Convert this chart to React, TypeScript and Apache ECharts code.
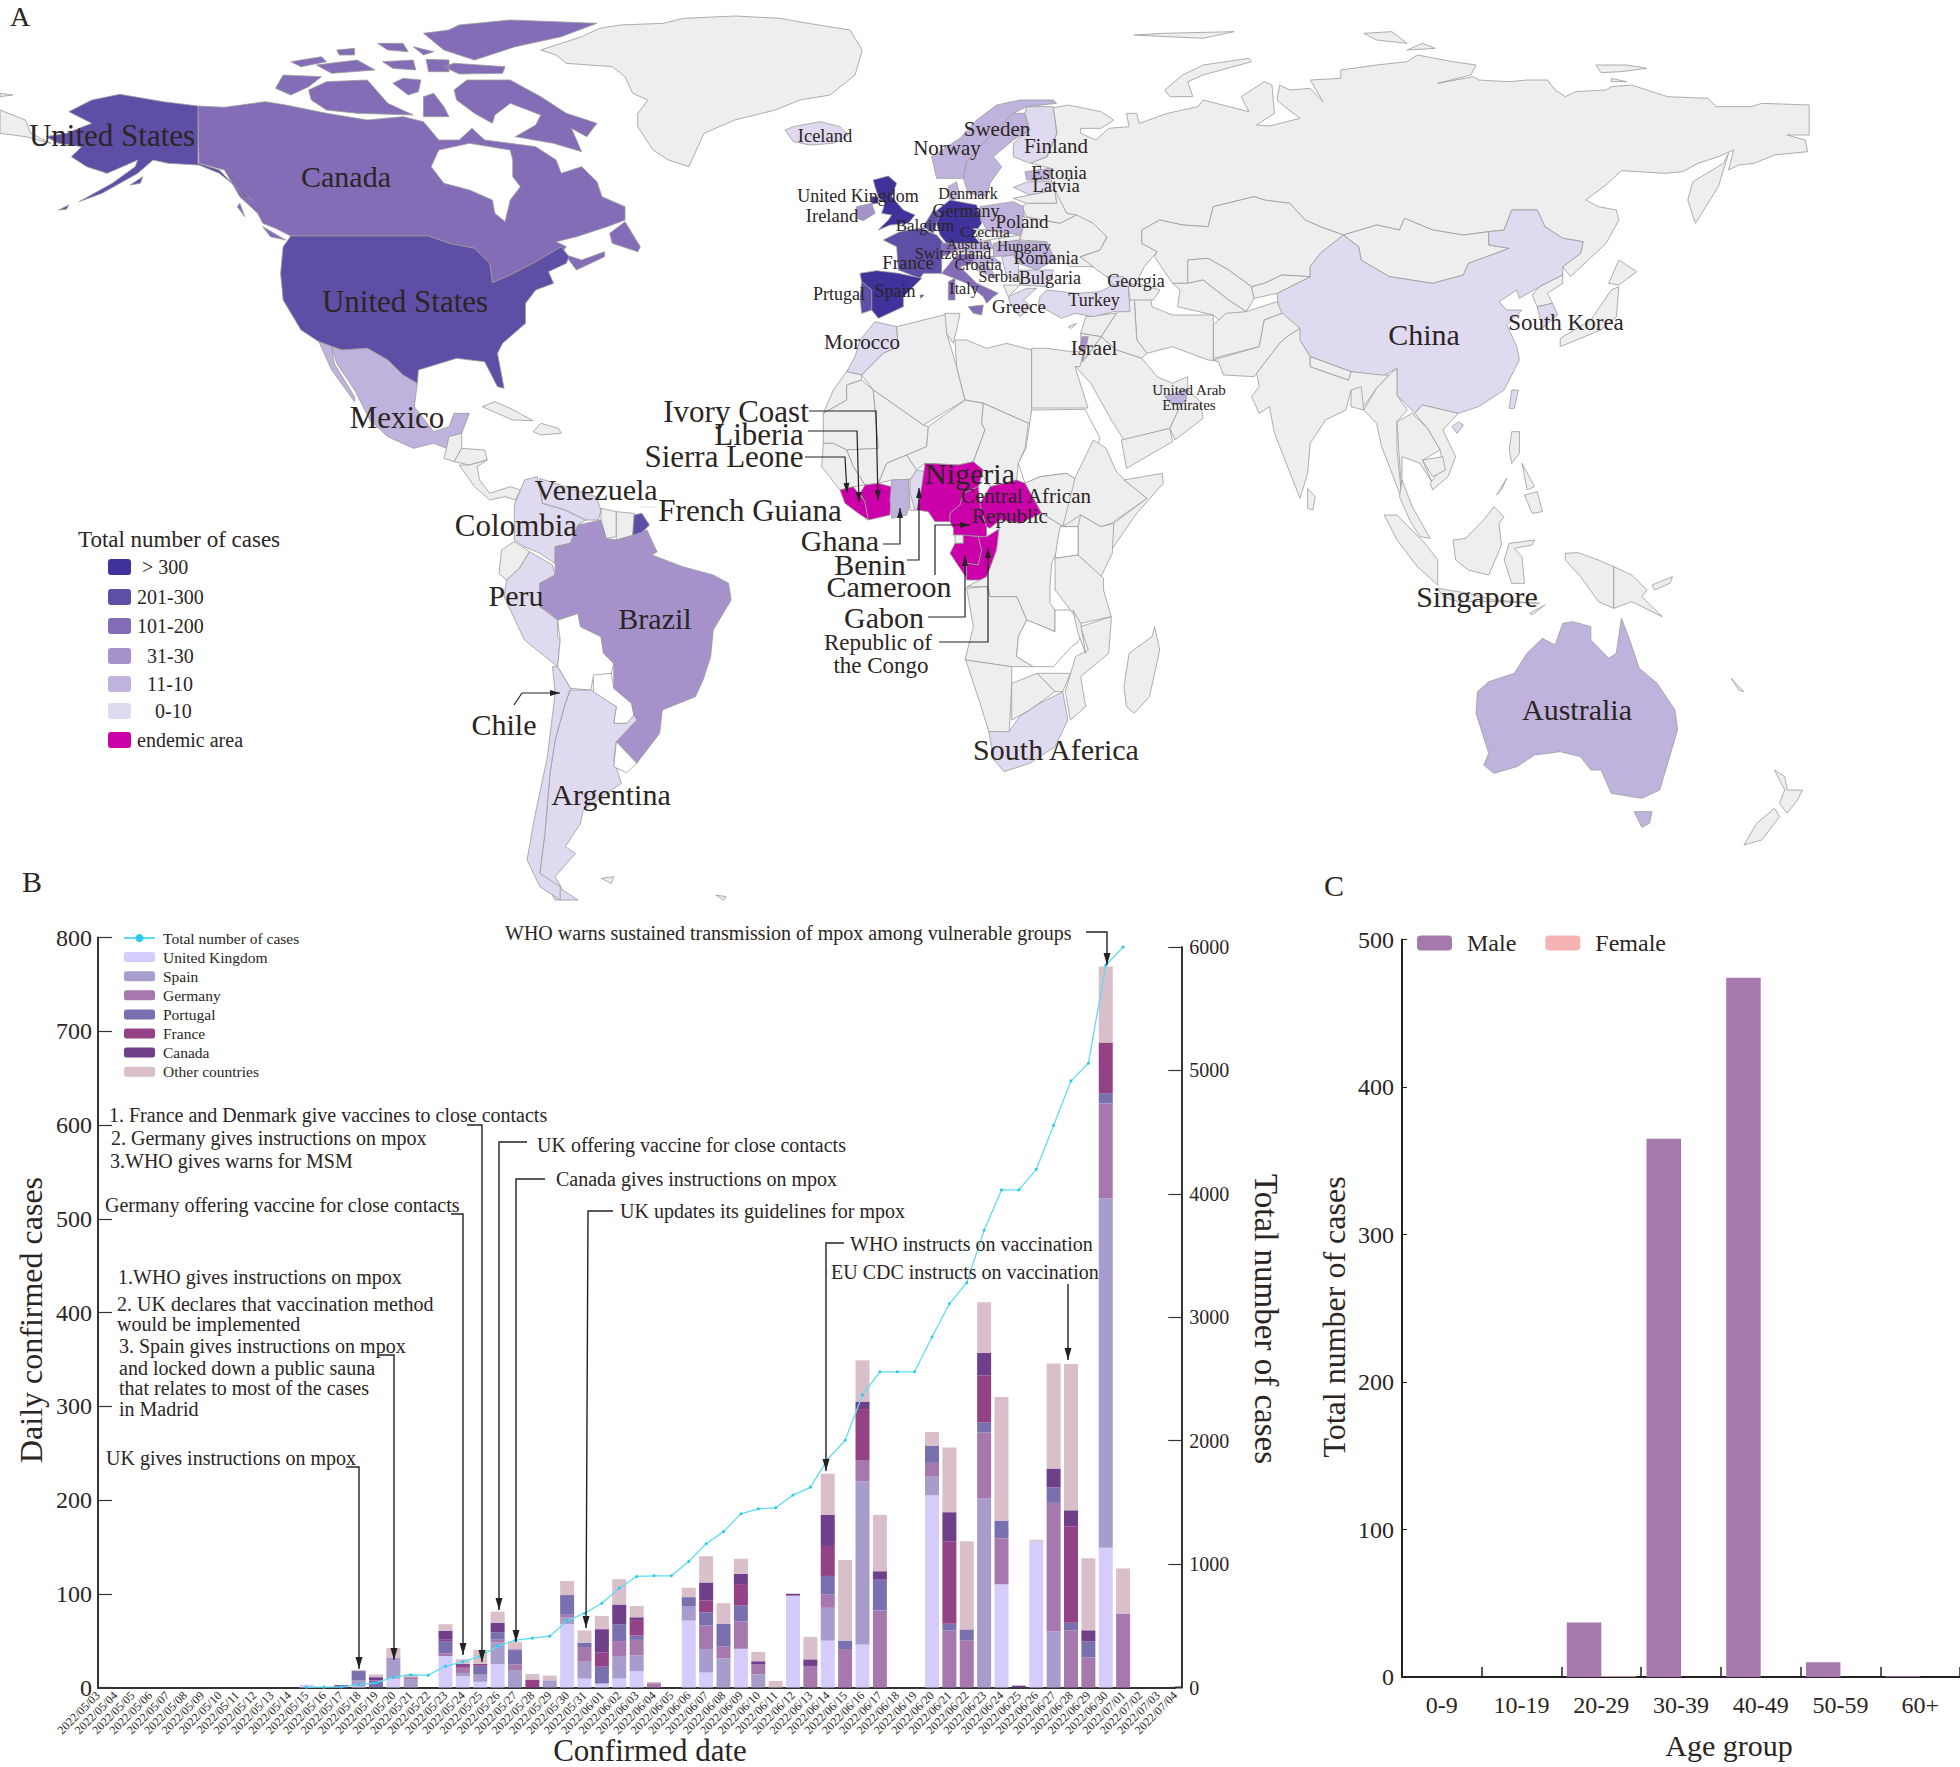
import React, { useEffect, useRef } from "react";
import * as echarts from "echarts";

const SERIF = "'Liberation Serif', 'Times New Roman', serif";
const INK = "#2b2523";

// ---------- Panel B data ----------
const dates = [
  "2022/05/03","2022/05/04","2022/05/05","2022/05/06","2022/05/07","2022/05/08","2022/05/09","2022/05/10","2022/05/11","2022/05/12",
  "2022/05/13","2022/05/14","2022/05/15","2022/05/16","2022/05/17","2022/05/18","2022/05/19","2022/05/20","2022/05/21","2022/05/22",
  "2022/05/23","2022/05/24","2022/05/25","2022/05/26","2022/05/27","2022/05/28","2022/05/29","2022/05/30","2022/05/31","2022/06/01",
  "2022/06/02","2022/06/03","2022/06/04","2022/06/05","2022/06/06","2022/06/07","2022/06/08","2022/06/09","2022/06/10","2022/06/11",
  "2022/06/12","2022/06/13","2022/06/14","2022/06/15","2022/06/16","2022/06/17","2022/06/18","2022/06/19","2022/06/20","2022/06/21",
  "2022/06/22","2022/06/23","2022/06/24","2022/06/25","2022/06/26","2022/06/27","2022/06/28","2022/06/29","2022/06/30","2022/07/01",
  "2022/07/02","2022/07/03","2022/07/04",
];
const ukCases = [
  0,0,0,0,0,0,0,0,0,0,
  0,0,3,0,0,1,0,9.5,0,0,
  33.5,12,6,25,0,0,0,67.6,9.5,4.2,
  9.5,17.3,0,0,71.4,16,0,41.3,0,0,
  98,0,50,0,46,0,0,0,205,0,
  0,0,110,0,156,0,0,0,149,0,
  0,0,0,
];
const spainCases = [
  0,0,0,0,0,0,0,0,0,0,
  0,0,0,0,0,6.5,0,22,9,0,
  0,3.5,7.7,23,18.7,0,7.7,7,18.7,0,
  24,17,0,0,15,25,31,0,14,0,
  0,0,35,0,174,0,0,0,20.6,0,
  0,202,0,0,0,60,0,0,373,0,
  0,0,0,
];
const germanyCases = [
  0,0,0,0,0,0,0,0,0,0,
  0,0,0,0,0,0,0,0,2,0,
  3,5.6,0,3,6,0,0,3,15,0,
  16,16.5,4.6,0,0,25,13,29,11,0,
  0,23,14,41,22,82,0,0,14,61,
  50,70,49,0,0,137,61,32,101,79,
  0,0,0,
];
const portugalCases = [
  0,0,0,0,0,0,0,0,0,0,
  0,0,0,0,1,10,7.5,0,0,0,
  13,0,9.5,8,15,0,0,21,4.6,18,
  18,4.6,0,0,10,14,24,17,0,0,
  0,0,20,9,0,33,0,0,18,7,
  12,11,19,0,0,16.5,8,17,11,0,
  0,0,0,
];
const franceCases = [
  0,0,0,0,0,0,0,0,0,0,
  0,0,0,0,0,0,0.5,0,0,0,
  2,3,2,0,0,8.5,0,0,0,15,
  0,16.5,0,0,0,13,0,23,0,0,
  0,0,32,0,55,0,0,0,0,88,
  0,50,0,0,0,0,103,0,54,0,
  0,0,0,
];
const canadaCases = [
  0,0,0,0,0,0,0,0,0,0,
  0,0,0,0,1.5,0.5,3,0,0,0,
  9,1,0,10,1,0,0,0,0,25,
  21,3,0,0,0,19,0,11,3,0,
  2,7,33,0,8,9,0,0,0,31,
  0,24,0,2,0,20,17,12,0,0,
  0,0,0,
];
const otherCases = [
  0,0,0,0,0,0,0,0,0,0,
  0,0,0,0,0,0.7,3,10.5,3,0,
  7,5,15,12,8,6,5,15,13,14,
  27,12,1.4,0,10,28,22,16,10,7,
  0,24,44,86,44,60,0,0,15,69,
  94,54,132,0,1.5,112,156,77,81,48,
  0,0,0,
];
const totalCases = [
  null,null,null,null,null,null,null,null,null,null,
  null,null,3,3,5,24,38,84,103,100,
  173,208,254,335,383,400,416,540,602,683,
  804,900,905,905,1021,1165,1263,1407,1447,1456,
  1559,1622,1850,2003,2370,2558,2558,2558,2840,3109,
  3280,3705,4032,4032,4198,4556,4915,5058,5851,6000,
  null,null,null,
];

// ---------- Panel C data ----------
const ageGroups = ["0-9","10-19","20-29","30-39","40-49","50-59","60+"];
const maleCases = [0,0,37,365,474,10,0.5];
const femaleCases = [0,0,0.5,0,0,0,0];

// ---------- Panel A: case bins ----------
const binGt300 = ["United Kingdom","Germany","Spain"];
const bin201 = ["United States","France","Portugal","Belgium","French Guiana"];
const bin101 = ["Canada","Italy","Switzerland"];
const bin31 = ["Brazil","Ireland","Israel"];
const bin11 = ["Mexico","Australia","Ghana","Norway","Sweden","Denmark","Poland","Austria","Hungary","Romania","Estonia","United Arab Emirates","Croatia"];
const bin0 = ["China","Argentina","Chile","Peru","Colombia","Venezuela","South Africa","Morocco","Iceland","Finland","Latvia","Serbia","Bulgaria","Greece","Turkey","Georgia","South Korea","Taiwan","Benin"];
const endemic = ["Sierra Leone","Liberia","Ivory Coast","Nigeria","Cameroon","Central African Republic","Gabon","Republic of the Congo"];
const noData = ["Sudan","Zambia","Uganda","Bolivia","Paraguay","Uruguay","Hudson Bay"];

const binColors = { gt300: "#3f329b", b201: "#5e4ea6", b101: "#846db7", b31: "#a592cb", b11: "#bfb3dd", b0: "#e0daf0", endemic: "#cc00a9", none: "#eeeeee", white: "#ffffff" };

const legendRows: [string, string, number, number][] = [
  ["> 300", binColors.gt300, 142, 567],
  ["201-300", binColors.b201, 137, 597],
  ["101-200", binColors.b101, 137, 626],
  ["31-30", binColors.b31, 147, 656],
  ["11-10", binColors.b11, 147, 684],
  ["0-10", binColors.b0, 155, 711],
  ["endemic area", binColors.endemic, 137, 740],
];

// frame: origin x, origin y, scale x, scale y
const FRAMES: Record<string, number[]> = {
  e: [760, 100, 3, 3],
  w: [620, 380, 3, 3],
  n: [0, 0, 1.96, 3],
  a: [1050, 0, 1.96, 3],
  s: [300, 440, 1.96, 3],
  o: [1050, 420, 1.96, 3],
};
const REGIONS: [string, [string, string][]][] = [
  ["Greenland", [["n","1060,150 1100,130 1140,110 1175,85 1215,75 1300,70 1340,55 1440,48 1530,55 1568,66 1666,90 1690,150 1676,225 1627,285 1568,300 1520,330 1440,360 1380,400 1350,500 1310,480 1280,450 1250,380 1250,340 1270,300 1240,280 1225,230 1200,200 1110,190 1090,165"]]],
  ["Canada", [
    ["n","388,318 440,322 520,305 560,315 640,340 720,360 790,350 830,365 860,420 900,420 925,385 950,420 1000,430 1050,440 1090,480 1100,520 1140,500 1170,545 1180,590 1225,620 1225,660 1190,680 1130,710 1090,725 1110,740 1100,760 1140,780 1185,755 1185,770 1130,810 1110,770 1100,740 1045,790 1000,825 965,848 960,790 930,745 880,730 840,708 570,708 540,685 515,670 505,640 470,590 440,510 390,490"],
    ["n","890,270 915,240 1000,240 1060,290 1110,340 1170,370 1150,410 1120,385 1140,455 1085,430 1010,410 1050,375 1060,345 1000,310 970,345 965,370 930,340 895,300"],
    ["n","605,270 640,245 720,240 760,310 810,345 700,340 640,330 610,300"],
    ["n","540,265 555,225 630,230 605,260 570,285"],
    ["n","770,250 790,235 825,240 820,275 800,285"],
    ["n","830,290 850,280 870,320 880,350 830,350"],
    ["n","870,200 890,190 990,200 985,220 900,222"],
    ["n","830,100 880,90 900,75 1000,60 1170,70 1100,110 1010,140 930,180 870,150"],
    ["n","740,130 790,130 800,155 760,150"],
    ["n","570,185 630,170 640,185 590,200"],
    ["n","620,195 700,180 735,210 650,220"],
    ["n","750,185 810,180 815,210 770,205"],
    ["n","835,178 880,180 880,215 840,215"],
    ["n","810,140 850,155 830,165"],
    ["n","660,150 695,145 695,165 665,165"],
    ["n","1195,700 1225,665 1255,740 1250,755 1200,730"],
    ["n","470,610 480,650 465,620"],
    ["n","515,680 560,720 530,710"],
  ]],
  ["Hudson Bay", [["n","845,500 860,450 920,430 1000,450 1005,480 1005,530 1020,560 1000,600 990,665 970,640 965,600 920,570 870,550"]]],
  ["United States", [
    ["n","570,708 840,708 880,730 930,745 960,790 965,848 1000,825 1045,790 1100,740 1115,770 1110,790 1075,815 1085,850 1050,870 1030,910 1030,970 985,1030 975,1060 988,1165 975,1160 950,1085 895,1075 820,1110 818,1150 790,1125 760,1080 720,1045 670,1050 625,1025 590,990 555,900 550,820 555,740"],
    ["n","388,318 388,490 430,510 480,590 495,600 430,520 390,495 330,490 300,480 270,520 200,580 155,605 220,550 265,500 270,480 210,520 170,500 140,470 160,440 115,430 90,410 130,400 180,370 135,335 180,300 235,283 320,305"],
    ["n","255,555 280,530 275,550"],
    ["n","115,630 135,615 130,628"],
  ]],
  ["Mexico", [
    ["n","650,1040 670,1050 720,1045 760,1080 790,1125 818,1150 812,1220 850,1295 880,1280 890,1240 920,1240 905,1300 880,1320 875,1345 850,1330 810,1345 760,1310 725,1260 695,1170 660,1090"],
    ["n","625,1025 650,1040 655,1090 695,1190 695,1205 650,1110"],
  ]],
  ["Guatemala", [["n","870,1375 875,1345 880,1310 905,1300 905,1345 890,1385"]]],
  ["Honduras", [["n","905,1345 950,1350 955,1380 920,1395 890,1385"]]],
  ["Nicaragua", [["n","920,1395 955,1380 935,1400 940,1440 960,1480 1000,1460 1020,1470 1010,1500 990,1490 960,1500 930,1460 900,1395"]]],
  ["Cuba", [["n","945,1220 970,1205 1000,1225 1045,1262 1005,1260 960,1230"]]],
  ["Hispaniola", [["n","1045,1295 1060,1270 1095,1285 1100,1300 1060,1305"]]],
  ["Chukotka", [["n","0,330 50,360 60,400 100,430 50,410 0,400"], ["n","0,280 25,285 0,290"]]],
  ["Russia", [
    ["a","6,324 35,315 100,335 125,360 100,385 60,385 60,400 90,420 115,385 155,380 150,340 170,340 175,370 230,340 290,320 300,300 390,335 375,290 420,245 435,255 440,340 405,375 430,378 490,355 460,320 445,300 450,255 470,270 510,265 535,305 510,240 570,235 570,210 640,195 700,185 720,165 790,185 835,195 825,225 760,250 830,230 840,240 900,245 935,240 975,240 990,270 1010,290 1030,275 1090,270 1100,260 1140,255 1210,290 1290,295 1305,320 1375,320 1395,310 1488,315 1488,405 1445,405 1480,420 1485,455 1420,465 1380,490 1350,495 1330,510 1340,450 1310,470 1270,490 1240,515 1205,520 1120,512 1090,555 1050,600 1075,620 1110,630 1115,660 1090,730 1020,830 1005,800 1040,760 1045,725 1005,715 970,680 955,630 905,630 890,690 860,695 810,705 750,690 695,655 685,690 640,675 575,705 530,680 500,660 470,610 420,600 400,590 320,620 310,680 260,675 215,660 180,690 180,730 210,755 185,800 167,855 112,831 84,801 59,771 98,750 112,711 84,669 33,639 6,579 0,504 -39,489 -6,471 14,399"],
    ["a","225,270 260,225 300,195 390,175 395,185 300,225 270,245 280,290 235,290"],
    ["a","165,105 220,100 360,95 300,115 230,110"],
    ["a","615,100 670,95 700,130 640,120"],
    ["a","700,150 730,130 755,145"],
    ["a","1250,600 1260,545 1320,490 1330,460 1310,560 1265,670"],
    ["a","1070,195 1130,195 1170,205 1120,215 1080,218"],
    ["a","1100,235 1130,245 1100,245"],
  ]],
  ["Japan", [
    ["a","1095,850 1115,780 1150,815 1115,855"],
    ["a","1000,1040 1000,1015 1060,960 1100,870 1115,860 1110,950 1080,990"],
  ]],
  ["Kazakhstan", [["a","180,690 215,660 260,675 310,680 320,620 400,590 420,600 470,610 500,660 530,680 575,705 530,760 510,800 510,830 455,825 420,850 395,860 350,810 310,775 270,780 270,850 240,850 205,770 210,755 180,730"]]],
  ["Mongolia", [["a","575,705 640,675 685,690 695,655 750,690 810,705 860,695 860,735 900,745 865,765 820,790 810,825 750,850 665,830 610,780 605,740"]]],
  ["China", [["a","575,705 605,740 610,780 665,830 750,850 810,825 820,790 865,765 900,745 860,735 860,695 890,690 905,630 955,630 970,680 1005,715 1045,725 1040,760 1005,800 1005,825 960,860 920,895 915,870 880,905 895,930 925,930 895,975 915,1040 920,1080 890,1170 840,1220 800,1240 730,1215 715,1240 680,1185 680,1105 650,1130 590,1115 510,1070 490,1020 450,950 445,880 510,830 510,800 530,760"], ["a","788,1280 800,1265 810,1275 798,1300"]]],
  ["Taiwan", [["a","900,1225 905,1170 918,1170 910,1225"]]],
  ["North Korea", [["a","1005,825 960,860 945,885 955,920 985,910 975,880 1005,850"]]],
  ["South Korea", [["a","955,920 985,910 995,945 965,985"]]],
  ["Uzbekistan", [["a","270,780 310,775 350,810 395,860 400,895 385,935 350,900 300,840 270,850"]]],
  ["Kyrgyzstan", [["a","395,860 420,850 455,825 510,830 445,880 400,895"]]],
  ["Turkmenistan", [["a","240,850 270,850 300,840 350,900 385,935 340,970 320,945 250,920 255,870"]]],
  ["Afghanistan", [["a","320,975 345,940 385,935 445,905 455,940 420,960 410,1040 320,1075"]]],
  ["Iran", [["a","165,890 195,875 200,920 240,945 320,945 320,1080 340,1085 310,1080 240,1040 190,1060 170,1020"]]],
  ["Pakistan", [["a","320,1080 410,1040 420,960 455,940 490,985 465,1010 450,1030 405,1120 400,1130 340,1125 330,1085"]]],
  ["India", [["a","465,1010 490,985 490,1020 510,1070 510,1100 585,1140 590,1115 650,1125 665,1125 640,1165 610,1230 590,1170 580,1230 540,1260 510,1330 505,1420 490,1495 440,1300 430,1220 410,1240 395,1190 410,1160 405,1120 450,1030"]]],
  ["Nepal", [["a","510,1070 590,1115 585,1140 510,1100"]]],
  ["Bangladesh", [["a","590,1170 610,1160 615,1230 590,1220"]]],
  ["Sri Lanka", [["o","505,205 520,230 515,270 505,265"]]],
  ["Myanmar", [["a","665,1125 680,1105 680,1185 700,1230 680,1265 680,1350 690,1498 650,1340 640,1270 615,1230 640,1165"]]],
  ["Thailand", [["a","680,1265 710,1240 740,1285 765,1350 730,1380 750,1450 725,1390 690,1370 690,1498"]]],
  ["Vietnam", [["a","715,1240 730,1215 800,1240 770,1290 795,1370 780,1430 750,1470 745,1450 770,1400 765,1350 740,1285"]]],
  ["Cambodia", [["a","730,1380 770,1370 775,1410 750,1430"]]],
  ["Malaysia", [["o","690,180 710,260 745,355 725,350 705,300 685,230"]]],
  ["Indonesia", [
    ["o","655,285 680,285 735,370 760,420 760,495 720,440 680,360"],
    ["o","790,360 815,355 850,300 870,260 890,290 880,310 885,375 860,465 820,450 795,420"],
    ["o","900,370 950,360 945,375 910,385 925,410 930,490 905,490 890,420"],
    ["o","760,505 820,520 870,540 960,550 870,545 800,545 770,530"],
    ["o","940,580 970,555 945,585"],
    ["o","1010,400 1035,398 1075,420 1105,440 1105,565 1075,545 1040,470 1010,420"],
  ]],
  ["Philippines", [
    ["o","905,35 920,35 920,100 905,130 900,90"],
    ["o","930,225 955,215 965,275 945,280"],
    ["o","875,225 895,175 885,210"],
    ["o","925,130 950,200 935,210"],
  ]],
  ["Papua New Guinea", [["o","1105,440 1140,465 1170,510 1160,530 1200,590 1160,560 1140,545 1105,565"], ["o","1180,495 1220,470 1215,490 1185,510"]]],
  ["New Zealand", [["o","1420,1050 1440,1070 1445,1110 1475,1110 1465,1140 1445,1180 1430,1150 1440,1110"], ["o","1420,1165 1430,1190 1395,1260 1360,1275 1385,1210"]]],
  ["New Caledonia", [["o","1335,775 1360,815 1350,810"]]],
  ["Madagascar", [["o","205,620 215,690 195,830 165,880 150,860 145,800 155,700 200,650"]]],
  ["Australia", [["o","1005,610 1025,605 1060,620 1060,660 1095,715 1110,700 1120,595 1135,655 1155,745 1190,790 1225,870 1230,930 1195,1110 1160,1135 1100,1120 1080,1050 1060,1050 1040,1010 1000,995 950,1005 915,1040 870,1060 850,1035 860,1000 835,880 838,815 860,785 910,760 935,700 965,655 990,675"], ["o","1145,1175 1180,1175 1175,1210 1160,1222"]]],
  ["Iraq", [["a","130,940 155,905 165,890 170,1020 190,1060 180,1075 130,1050 100,1010"]]],
  ["Syria", [["a","70,950 130,940 100,1010 60,1000"]]],
  ["Saudi Arabia", [["a","70,1075 100,1010 130,1050 180,1075 210,1130 240,1150 270,1130 270,1170 235,1285 145,1320 120,1260 80,1150 50,1100"]]],
  ["Yemen", [["a","140,1320 235,1285 240,1325 150,1405"]]],
  ["Oman", [["a","270,1170 295,1205 300,1255 245,1320 235,1285"]]],
  ["United Arab Emirates", [["a","225,1190 270,1165 265,1210 240,1215"]]],
  ["Jordan", [["a","60,1000 100,1010 70,1075 62,1060"]]],
  ["Israel", [["a","62,1010 75,1010 65,1085 58,1060"]]],
  ["Turkey", [["e","840,590 860,570 950,580 1020,575 1060,555 1105,560 1110,635 1060,635 1000,650 945,640 905,655 860,630 835,615"]]],
  ["Georgia", [["e","1040,530 1090,530 1110,560 1060,555"]]],
  ["Azerbaijan", [["e","1105,560 1130,550 1200,570 1180,600 1110,600"]]],
  ["Morocco", [["e","345,665 410,680 415,740 370,760 305,825 260,815 285,770 300,720"]]],
  ["Algeria", [["e","410,680 570,640 560,700 590,800 615,900 490,975 340,870 305,825 370,760 415,740"]]],
  ["Tunisia", [["e","555,640 600,640 590,690 580,730 560,700"]]],
  ["Libya", [["e","585,720 620,720 680,745 740,730 815,750 815,969 804,969 669,909 615,900 590,800"]]],
  ["Egypt", [["e","815,745 860,745 935,755 970,755 960,800 945,800 984,924 815,924"]]],
  ["Western Sahara", [["w","680,-25 725,-15 725,0 680,15 680,60 610,100 640,30"]]],
  ["Mauritania", [["w","610,100 680,60 680,15 725,0 760,30 775,205 680,210 640,190 610,190"]]],
  ["Mali", [["w","760,30 910,135 925,140 920,200 860,225 800,250 775,310 735,315 700,260 680,210 775,205"]]],
  ["Senegal", [["w","610,190 640,190 680,210 700,260 735,315 700,320 660,330 605,260"]]],
  ["Burkina Faso", [["w","775,310 800,250 860,225 890,270 870,300 815,300"]]],
  ["Niger", [["w","925,140 1035,60 1090,70 1085,130 1095,150 1060,245 1015,255 915,250 890,270 860,225 920,200"]]],
  ["Chad", [["w","1090,70 1225,130 1215,205 1195,250 1190,300 1110,320 1060,245 1095,150 1085,130"]]],
  ["Sudan", [["w","1235,90 1395,88 1440,175 1415,235 1370,300 1340,280 1260,290 1215,310 1195,250 1218,205"]]],
  ["South Sudan", [["w","1215,310 1260,290 1340,280 1370,300 1395,350 1395,440 1330,440 1265,400"]]],
  ["Sierra Leone", [["w","660,330 700,320 735,365 745,420 715,400 675,370"]]],
  ["Ivory Coast", [["w","735,315 775,310 815,320 810,405 745,420 735,365 720,340"]]],
  ["Ghana", [["w","815,300 865,298 870,370 860,405 815,415 810,360"]]],
  ["Togo", [["w","865,298 885,298 885,390 870,392"]]],
  ["Benin", [["w","870,300 890,270 915,275 905,335 895,390 885,390 870,340"]]],
  ["Nigeria", [["w","915,250 1015,255 1060,245 1090,270 1075,320 1030,340 1020,375 990,400 990,425 945,425 925,395 890,390 905,320"]]],
  ["Cameroon", [["w","1020,375 1030,340 1075,320 1080,370 1085,395 1100,440 1100,470 1000,465 1000,445 990,425 990,400"]]],
  ["Central African Republic", [["w","1080,370 1110,320 1190,300 1215,310 1265,400 1200,430 1140,420 1110,445 1100,440 1085,395"]]],
  ["Equatorial Guinea", [["w","1005,465 1030,465 1030,490 1005,490"]]],
  ["Gabon", [["w","1005,490 1030,490 1030,465 1075,470 1085,510 1075,555 1040,550 1040,595 990,520"]]],
  ["Republic of the Congo", [["w","1100,470 1140,445 1130,510 1105,590 1085,600 1040,600 1040,550 1075,555 1085,510 1075,470"]]],
  ["DR Congo", [["w","1140,420 1200,430 1265,400 1330,440 1320,490 1295,550 1290,620 1290,670 1305,690 1305,755 1270,740 1220,720 1190,650 1110,650 1105,620 1040,620 1100,590 1130,510"]]],
  ["Angola", [["w","1040,625 1100,620 1110,650 1190,650 1220,720 1195,770 1190,830 1240,860 1170,860 1035,840 1060,740"]]],
  ["Zambia", [["w","1220,720 1270,740 1305,755 1305,690 1365,690 1390,760 1370,790 1355,800 1300,860 1240,860 1190,830 1195,770"]]],
  ["Ethiopia", [["o","50,170 85,60 110,85 130,155 150,185 190,235 120,310 100,320 60,285 25,320"]]],
  ["Somalia", [["o","145,180 220,160 222,190 170,280 120,390 100,450 85,400 125,310 190,235"]]],
  ["Kenya", [["o","55,320 60,285 100,320 125,310 122,400 100,470 55,405"]]],
  ["Uganda", [["o","20,320 55,320 55,405 10,415 15,360"]]],
  ["Tanzania", [["o","10,415 55,405 105,475 105,510 120,590 60,610 40,570 10,510"]]],
  ["Mozambique", [["o","120,590 120,600 115,700 60,770 70,860 40,900 30,815 50,710 75,690 60,620"]]],
  ["Malawi", [["o","45,570 60,610 70,700 55,640"]]],
  ["Namibia", [["s","1305,660 1395,680 1395,730 1390,880 1350,875 1335,800"]]],
  ["Botswana", [["s","1395,730 1445,700 1480,755 1430,810 1395,840"]]],
  ["Zimbabwe", [["s","1445,700 1510,700 1495,755 1480,755"]]],
  ["South Africa", [["s","1350,875 1390,875 1410,830 1450,790 1495,755 1505,840 1480,920 1430,970 1380,995 1360,960"]]],
  ["Iceland", [["e","75,90 100,80 180,65 240,80 265,105 220,130 150,135 100,125"]]],
  ["United Kingdom", [["e","340,240 385,228 410,250 395,290 430,330 465,345 445,370 390,375 355,390 385,360 395,345 365,340 375,310 355,290 345,260"], ["e","335,290 355,290 355,310 335,312"]]],
  ["Ireland", [["e","290,320 335,310 345,340 310,362 290,355"]]],
  ["Norway", [["e","515,170 600,115 650,60 710,15 780,0 880,0 890,10 800,20 760,40 650,150 620,185 610,235 530,235"]]],
  ["Sweden", [["e","650,150 760,40 795,40 810,90 760,120 700,170 725,200 690,250 680,290 625,280 610,235 620,185"]]],
  ["Finland", [["e","800,20 880,20 890,100 860,170 810,190 760,170 760,130 810,90 795,40"]]],
  ["Estonia", [["e","795,215 870,205 870,240 800,240"]]],
  ["Latvia", [["e","760,262 805,245 875,245 885,270 810,285"]]],
  ["Lithuania", [["e","760,295 810,285 885,270 890,310 800,310"]]],
  ["Belarus", [["e","800,310 890,310 885,270 920,340 950,345 900,370 800,350 785,320"]]],
  ["Poland", [["e","660,320 760,305 790,320 795,375 780,405 680,390 660,350"]]],
  ["Germany", [["e","520,340 570,300 650,315 665,370 640,405 660,430 560,430 540,405"]]],
  ["Denmark", [["e","570,300 565,260 590,245 600,295"]]],
  ["Belgium", [["e","490,380 520,330 540,340 520,400"]]],
  ["France", [["e","370,420 420,395 480,385 530,405 555,435 545,470 545,520 490,520 480,535 415,510 410,440"]]],
  ["Switzerland", [["e","545,430 580,430 595,450 545,470"]]],
  ["Austria", [["e","580,430 660,430 690,420 700,445 640,460 595,450"]]],
  ["Czechia", [["e","640,385 680,390 745,400 715,415 660,425"]]],
  ["Slovakia", [["e","715,415 780,405 780,420 720,430"]]],
  ["Hungary", [["e","700,430 780,420 760,465 700,470"]]],
  ["Romania", [["e","780,425 860,425 885,480 830,510 775,490 760,465"]]],
  ["Serbia", [["e","725,470 760,465 775,490 775,540 740,530"]]],
  ["Bulgaria", [["e","775,510 830,510 880,510 860,560 780,555"]]],
  ["Croatia", [["e","640,465 700,470 725,490 680,490 715,540 650,510"]]],
  ["Italy", [["e","545,520 590,465 640,460 640,490 600,500 650,550 715,580 700,590 680,610 670,590 620,550"], ["e","625,620 670,615 665,645 640,640"], ["e","565,545 585,535 585,600 565,600"]]],
  ["Greece", [["e","745,590 800,565 830,565 790,600 815,620 780,650 750,610"]]],
  ["Albania", [["e","730,555 780,555 745,590"]]],
  ["Ukraine", [["e","785,350 900,370 950,345 1000,370 1040,410 1020,450 960,470 1000,500 930,500 900,470 885,480 860,425 780,420 790,380"]]],
  ["Spain", [["e","300,520 350,512 415,520 485,535 430,590 430,620 355,655 335,630 335,570 305,545"], ["e","480,585 492,585 482,595"]]],
  ["Portugal", [["e","305,545 335,570 335,630 305,640 300,590"]]],
  ["Cyprus", [["e","925,680 950,670 935,685"]]],
  ["Colombia", [["s","420,195 440,120 465,110 475,190 520,210 560,240 545,255 530,310 500,320 500,370 470,340 440,320 420,300"]]],
  ["Venezuela", [["s","470,115 580,170 590,210 585,240 560,240 520,210 475,190"]]],
  ["Guyana", [["s","590,205 620,215 620,290 600,295 590,240"]]],
  ["Suriname", [["s","620,215 655,220 655,285 620,300"]]],
  ["French Guiana", [["s","655,225 670,220 685,255 665,285 652,285"]]],
  ["Ecuador", [["s","395,330 420,305 450,335 430,385 405,420 390,400"]]],
  ["Peru", [["s","405,420 430,385 450,335 495,375 500,405 470,430 470,500 505,540 505,590 510,600 505,680 440,600 400,470"]]],
  ["Bolivia", [["s","505,540 545,520 550,560 590,590 595,640 615,670 610,700 575,710 570,750 530,745 505,680 510,600"]]],
  ["Paraguay", [["s","575,705 610,700 615,745 650,790 655,830 640,850 615,850 620,800 575,770"]]],
  ["Brazil", [["s","545,255 590,240 600,295 620,300 655,285 680,270 695,320 700,335 690,345 750,380 810,405 840,430 845,480 810,570 805,650 790,720 775,770 710,810 705,880 660,970 620,905 655,830 650,790 615,745 615,670 595,640 590,590 550,560 545,520 505,540 490,520 470,500 470,430 500,405 500,320 530,310"]]],
  ["Argentina", [["s","530,750 570,750 620,800 615,850 640,850 655,825 660,840 620,905 615,960 630,1030 555,1110 550,1150 520,1220 540,1240 500,1310 515,1350 545,1380 500,1380 470,1300 480,1180 490,1000 500,900 520,790"]]],
  ["Chile", [["s","505,680 530,745 520,790 500,900 490,1000 480,1180 470,1300 510,1340 510,1380 470,1340 445,1260 460,1130 485,950 500,760 495,680"]]],
  ["Uruguay", [["s","620,905 660,970 640,998 615,980"]]],
  ["Falkland Islands", [["s","590,1315 615,1310 610,1330"], ["s","815,1365 835,1370 830,1380"]]],
];

// ---------- Panel A labels: text, centre x, centre y, size ----------
const mapLabels: [string, number, number, number][] = [
  ["United States",112,135,31],["United States",405,301,31],["Canada",346,176,30],["Mexico",397,417,31],
  ["Venezuela",596,489,30],["Colombia",516,525,31],["Peru",516,595,30],["Brazil",655,618,30],["Chile",504,724,30],["Argentina",611,794,30],
  ["Ivory Coast",736,411,31],["Liberia",759,434,31],["Sierra Leone",724,456,31],["French Guiana",750,510,31],["Ghana",840,540,30],["Benin",870,564,30],
  ["Cameroon",889,586,30],["Gabon",884,617,30],["Republic of",878,642,23],["the Congo",881,665,23],["Nigeria",970,473,30],
  ["Central African",1026,496,21],["Republic",1010,516,21],["South Aferica",1056,749,30],["Australia",1577,709,30],["Singapore",1477,596,30],["China",1424,334,30],
  ["South Korea",1566,322,23],["United Arab",1189,390,15],["Emirates",1189,405,15],["Israel",1094,348,21],["Morocco",862,342,21],["Turkey",1094,300,18],
  ["Georgia",1136,281,18],["Greece",1019,306,19],["Italy",964,288,16],["Spain",895,291,18],["Prtugal",839,294,18],["France",908,262,19],["Bulgaria",1050,278,18],
  ["Serbia",999,276,16],["Croatia",978,264,16],["Romania",1046,258,18],["Switzerland",953,253,16],["Austria",968,244,14.5],["Hungary",1024,245,15.5],["Czechia",985,231,15.5],
  ["Poland",1022,221,19],["Balgium",925,225,17],["Germany",966,211,18],["Denmark",968,193,16],["Ireland",832,216,18.5],["United Kingdom",858,196,18],
  ["Latvia",1056,186,18.5],["Estonia",1059,173,18.5],["Finland",1056,146,21],["Norway",947,148,21],["Sweden",997,129,21],["Iceland",825,136,18.5],
];
const mapArrows: number[][][] = [
  [[809,411],[876,411],[878,500]],
  [[808,431],[857,431],[859,502]],
  [[805,457],[845,457],[847,493]],
  [[883,544],[900,544],[900,508]],
  [[907,560],[919,560],[919,488]],
  [[935,575],[935,525],[970,525]],
  [[928,617],[965,617],[965,556]],
  [[939,642],[988,642],[988,548]],
  [[514,705],[522,693],[560,693]],
];

// ---------- Panel B annotations: text, left x, centre y ----------
const noteTexts: [string, number, number][] = [
  ["WHO warns sustained transmission of mpox among vulnerable groups",505,933],
  ["1. France and Denmark give vaccines to close contacts",109,1115],
  ["2. Germany gives instructions on mpox",111,1138],
  ["3.WHO gives warns for MSM",110,1161],
  ["Germany offering vaccine for close contacts",105,1205],
  ["1.WHO gives instructions on mpox",118,1277],
  ["2. UK declares that vaccination method",117,1304],
  ["would be implemented",117,1324],
  ["3. Spain gives instructions on mpox",119,1346],
  ["and locked down a public sauna",119,1368],
  ["that relates to most of the cases",119,1388],
  ["in Madrid",119,1409],
  ["UK gives instructions on mpox",106,1458],
  ["UK offering vaccine for close contacts",537,1145],
  ["Canada gives instructions on mpox",556,1179],
  ["UK updates its guidelines for mpox",620,1211],
  ["WHO instructs on vaccination",850,1244],
  ["EU CDC instructs on vaccination",831,1272],
];
const noteArrows: number[][][] = [
  [[346,1467],[359,1467],[359,1669]],
  [[379,1355],[394,1355],[394,1660]],
  [[451,1214],[463,1214],[463,1655]],
  [[467,1125],[482,1125],[482,1662]],
  [[527,1142],[499,1142],[499,1610]],
  [[545,1179],[516,1179],[516,1642]],
  [[613,1211],[588,1211],[586,1628]],
  [[844,1243],[826,1243],[826,1471]],
  [[1068,1284],[1068,1360]],
  [[1086,932],[1107,932],[1107,965]],
];

function ring(frame: string, s: string) {
  const [ox, oy, sx, sy] = FRAMES[frame];
  return s.trim().split(/\s+/).map((p) => {
    const [a, b] = p.split(",").map(Number);
    return [ox + a / sx, oy + b / sy];
  });
}

function regionColor(name: string) {
  if (binGt300.includes(name)) return binColors.gt300;
  if (bin201.includes(name)) return binColors.b201;
  if (bin101.includes(name)) return binColors.b101;
  if (bin31.includes(name)) return binColors.b31;
  if (bin11.includes(name)) return binColors.b11;
  if (bin0.includes(name)) return binColors.b0;
  if (endemic.includes(name)) return binColors.endemic;
  if (noData.includes(name)) return binColors.white;
  return binColors.none;
}

function textEl(text: string, x: number, y: number, size: number, align = "center", rotation = 0) {
  return {
    type: "text", x, y, rotation, z: 100, silent: true,
    style: { text, fill: INK, font: `${size}px ${SERIF}`, align, verticalAlign: "middle", textAlign: align, textVerticalAlign: "middle" },
  };
}

function arrowEls(pts: number[][], w = 1.4, head = 12, half = 3.5) {
  const a = pts[pts.length - 2];
  const b = pts[pts.length - 1];
  const len = Math.hypot(b[0] - a[0], b[1] - a[1]);
  const ux = (b[0] - a[0]) / len;
  const uy = (b[1] - a[1]) / len;
  return [
    { type: "polyline", z: 100, silent: true, shape: { points: pts }, style: { stroke: "#222", lineWidth: w, fill: "none" } },
    { type: "polygon", z: 100, silent: true, shape: { points: [b, [b[0] - ux * head - uy * half, b[1] - uy * head + ux * half], [b[0] - ux * head + uy * half, b[1] - uy * head - ux * half]] }, style: { fill: "#222" } },
  ];
}

const barColors: Record<string, string> = {
  "United Kingdom": "#d5ccfb", Spain: "#a79ccb", Germany: "#a778ae", Portugal: "#7a70b0",
  France: "#934285", Canada: "#6f3f8a", "Other countries": "#d9bfca",
};
const barSeries: [string, number[]][] = [
  ["United Kingdom", ukCases], ["Spain", spainCases], ["Germany", germanyCases], ["Portugal", portugalCases],
  ["France", franceCases], ["Canada", canadaCases], ["Other countries", otherCases],
];

export default function App() {
  const ref = useRef<HTMLDivElement>(null);
  useEffect(() => {
    const chart = echarts.init(ref.current!, undefined, { renderer: "svg" });
    const features = REGIONS.map(([name, rings]) => ({
      type: "Feature",
      properties: { name },
      geometry: { type: "MultiPolygon", coordinates: rings.map(([f, s]) => [ring(f, s)]) },
    }));
    echarts.registerMap("world", { type: "FeatureCollection", features } as any);

    const axisText = (fontSize: number) => ({ fontFamily: SERIF, fontSize, color: INK });
    const plain = (v: number) => String(v);
    const elements: any[] = [
      textEl("A", 20, 16, 28), textEl("B", 32, 881, 30), textEl("C", 1334, 885, 30),
      textEl("Total number of cases", 179, 539, 23),
      ...legendRows.flatMap(([label, color, x, y]) => [
        { type: "rect", z: 100, silent: true, shape: { x: 108, y: y - 8, width: 23, height: 16, r: 3 }, style: { fill: color } },
        textEl(label, x, y, 20, "left"),
      ]),
      ...mapLabels.map(([t, x, y, s]) => textEl(t, x, y, s)),
      ...mapArrows.flatMap((p) => arrowEls(p, 1.2, 10, 3)),
      { type: "polyline", z: 100, silent: true, shape: { points: [[657, 507], [640, 507]] }, style: { stroke: "#ddd", lineWidth: 1 } },
      ...noteTexts.map(([t, x, y]) => textEl(t, x, y, 20, "left")),
      ...noteArrows.flatMap((p) => arrowEls(p)),
      { type: "line", z: 100, silent: true, shape: { x1: 1175, y1: 1687.5, x2: 1182, y2: 1687.5 }, style: { stroke: "#333", lineWidth: 2 } },
      textEl("Daily confirmed cases", 31, 1320, 32, "center", Math.PI / 2),
      textEl("Total number of cases", 1266, 1319, 33, "center", -Math.PI / 2),
      textEl("Confirmed date", 650, 1750, 31),
      textEl("Total number of cases", 1334, 1317, 32, "center", Math.PI / 2),
      textEl("Age group", 1729, 1745, 30),
    ];

    chart.setOption({
      animation: false,
      backgroundColor: "#ffffff",
      graphic: { elements },
      legend: [
        {
          orient: "vertical", left: 123, top: 930, padding: 0, itemWidth: 31, itemHeight: 10, itemGap: 3.1, selectedMode: false,
          data: ["Total number of cases", ...barSeries.map((s) => s[0])],
          textStyle: { fontFamily: SERIF, fontSize: 15.5, color: INK, padding: [0, 0, 0, 3] },
        },
        {
          orient: "horizontal", left: 1417, top: 931, padding: 0, itemWidth: 35, itemHeight: 15, itemGap: 29, selectedMode: false,
          data: ["Male", "Female"],
          textStyle: { fontFamily: SERIF, fontSize: 24, color: INK, padding: [0, 0, 0, 10] },
        },
      ],
      grid: [
        { left: 98, top: 937.5, width: 1077.25, height: 750 },
        { left: 98, top: 947, width: 1077.25, height: 740.5 },
        { left: 1402, top: 939.5, right: 0, height: 737.5 },
      ],
      xAxis: [
        {
          type: "category", gridIndex: 0, data: dates, boundaryGap: false,
          axisLine: { lineStyle: { color: "#333", width: 2 } }, axisTick: { show: false },
          axisLabel: { ...axisText(12), interval: 0, rotate: 45, margin: 6 },
        },
        { type: "category", gridIndex: 1, data: dates, boundaryGap: false, show: false },
        {
          type: "category", gridIndex: 2, data: ageGroups,
          axisLine: { lineStyle: { color: "#222", width: 2 } },
          axisTick: { show: true, inside: true, length: 10, lineStyle: { color: "#222", width: 1.5 } },
          axisLabel: { ...axisText(24), interval: 0, margin: 16 },
        },
      ],
      yAxis: [
        {
          type: "value", gridIndex: 0, min: 0, max: 800, interval: 100,
          axisLine: { show: true, lineStyle: { color: "#333", width: 2 } },
          axisTick: { show: true, inside: true, length: 14, lineStyle: { color: "#333", width: 1.2 } },
          axisLabel: { ...axisText(24), margin: 6, formatter: plain }, splitLine: { show: false },
        },
        {
          type: "value", gridIndex: 1, position: "right", offset: 6, min: 0, max: 6000, interval: 1000,
          axisLine: { show: true, lineStyle: { color: "#333", width: 2 } },
          axisTick: { show: true, inside: true, length: 13, lineStyle: { color: "#333", width: 1.2 } },
          axisLabel: { ...axisText(20), margin: 8, formatter: plain }, splitLine: { show: false },
        },
        {
          type: "value", gridIndex: 2, min: 0, max: 500, interval: 100,
          axisLine: { show: true, lineStyle: { color: "#222", width: 2 } },
          axisTick: { show: true, inside: true, length: 5, lineStyle: { color: "#222" } },
          axisLabel: { ...axisText(24), margin: 8, formatter: plain }, splitLine: { show: false },
        },
      ],
      series: [
        {
          type: "map", map: "world", left: 0, top: 0, width: 1960, height: 900,
          boundingCoords: [[0, 0], [1960, 900]],
          projection: { project: (p: number[]) => p, unproject: (p: number[]) => p },
          roam: false, silent: true, selectedMode: false, showLegendSymbol: false,
          label: { show: false }, emphasis: { disabled: true },
          itemStyle: { borderColor: "#9a9a9a", borderWidth: 0.8, areaColor: binColors.none },
          data: REGIONS.map(([name]) => ({ name, value: 1, itemStyle: { areaColor: regionColor(name) } })),
        },
        ...barSeries.map(([name, data]) => ({
          name, type: "bar", stack: "daily", xAxisIndex: 0, yAxisIndex: 0, barWidth: 14, data,
          itemStyle: { color: barColors[name] },
        })),
        {
          name: "Total number of cases", type: "line", xAxisIndex: 1, yAxisIndex: 1, data: totalCases, z: 5,
          symbol: "circle", symbolSize: 3, connectNulls: false,
          lineStyle: { color: "#5fdcf3", width: 1.3 }, itemStyle: { color: "#29c8f0" },
        },
        { name: "Male", type: "bar", xAxisIndex: 2, yAxisIndex: 2, barWidth: 34.5, barGap: "0%", data: maleCases, itemStyle: { color: "#a778ae" } },
        { name: "Female", type: "bar", xAxisIndex: 2, yAxisIndex: 2, barWidth: 34.5, barGap: "0%", data: femaleCases, itemStyle: { color: "#f5b3b3" } },
      ],
    });
    return () => chart.dispose();
  }, []);
  return <div ref={ref} style={{ position: "absolute", left: 0, top: 0, width: 1960, height: 1767 }} />;
}
